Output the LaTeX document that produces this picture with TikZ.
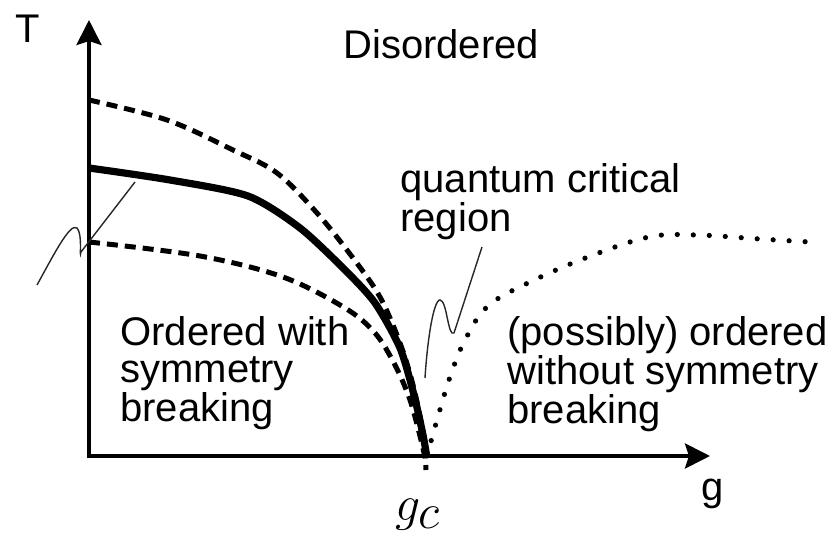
\documentclass[tikz,border=0pt]{standalone}
\usepackage{fontspec}
\setmainfont{Liberation Sans}
\usetikzlibrary{arrows.meta}

\tikzset{
  lbl/.style={font=\fontsize{20}{18.5}\selectfont, inner sep=0pt, align=left, anchor=base west},
  axis/.style={line width=2pt, {Stealth[length=12.5pt,width=12.5pt,inset=2pt]}-{Stealth[length=12.5pt,width=12.5pt,inset=2pt]}},
  transition/.style={line width=3.6pt, line join=round},
  crossover/.style={line width=2.5pt, dash pattern=on 5.5pt off 3.5pt},
  qcrit/.style={line width=2.6pt, line cap=round, dash pattern=on 0pt off 8pt},
  leader/.style={line width=0.7pt, black!85},
}

\begin{document}
\begin{tikzpicture}[x=0.5pt, y=-0.5pt]
    \useasboundingbox (0,0) rectangle (826,539);

    % Axes
    \coordinate (origin) at (89,456);
    \coordinate (Ttip) at (89,20);
    \coordinate (gtip) at (710,456);
    \draw[axis] (Ttip) -- (origin) -- (gtip);
    \node[lbl] (Tlabel) at (15,43) {T};
    \node[lbl] (glabel) at (701,501) {g};
    \node[inner sep=0pt, anchor=base west, font=\fontsize{39}{42}\selectfont] (gc) at (395,521) {$g_c$};

    % Crossover lines
    \draw[crossover] plot[smooth, tension=0.55] coordinates {(89,100) (167,120) (233,150) (277,173) (317,213) (353,258) (380,297) (400,343) (413,385) (423,433) (426,470)};
    \draw[crossover] plot[smooth, tension=0.55] coordinates {(89,242) (200,256) (283,277) (345,308) (375,333) (395,365) (410,400) (421,440) (425,458)};

    % Phase transition line
    \draw[transition] plot[smooth, tension=0.45] coordinates {(89,168) (170,180) (248,196) (300,228) (345,270) (375,303) (400,348) (414,395) (423,435) (427,458)};

    % Quantum critical crossover
    \draw[qcrit] plot[smooth, tension=0.6] coordinates {(427,456) (437,420) (450,377) (465,340) (488,306) (530,282) (588,257) (649,237) (697,235) (760,239) (810,242)};

    % Region labels (base of a multi-line node is its last line)
    \node[lbl] (disordered) at (343,59) {Disordered};
    \node[lbl] (qcr) at (400,232) {quantum critical\\region};
    \node[lbl] (ordered) at (120,422) {Ordered with\\symmetry\\breaking};
    \node[lbl] (topo) at (507,424) {(possibly) ordered\\without symmetry\\breaking};

    % Leader squiggles
    \coordinate (ltail) at (37,285);
    \coordinate (lhead) at (135,182);
    \draw[leader] (ltail) .. controls (52,258) and (70,222) .. (77,228)
        .. controls (83,234) and (79,262) .. (81,252) -- (lhead);
    \coordinate (rtail) at (425,378);
    \coordinate (rhead) at (482,247);
    \draw[leader] (rtail) .. controls (427,345) and (433,300) .. (440,300)
        .. controls (447,300) and (448,338) .. (454,333) -- (rhead);
\end{tikzpicture}
\end{document}
